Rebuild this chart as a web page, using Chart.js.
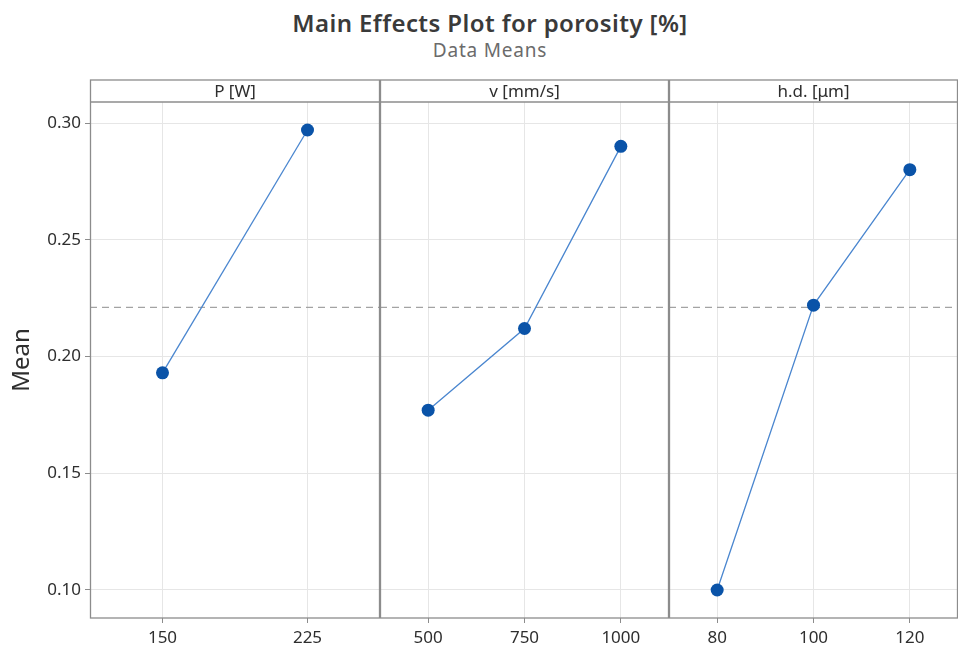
<!DOCTYPE html>
<html>
<head>
<meta charset="utf-8">
<title>Main Effects Plot for porosity</title>
<script src="https://cdn.jsdelivr.net/npm/chart.js@4.4.1/dist/chart.umd.min.js"></script>
<style>
  body { margin: 0; background: #fff; font-family: 'Noto Sans', sans-serif; }
  #wrap { position: relative; width: 961px; height: 650px; overflow: hidden; }
  .title { position: absolute; left: 0; width: 980px; text-align: center; line-height: 1; }
  #mainTitle { top: 11px; font-size: 24px; font-weight: 600; letter-spacing: 0.4px; color: #3a3a3a; }
  #subTitle { top: 41px; font-size: 19px; letter-spacing: 0.8px; color: #6b6b6b; }
  .panel { position: absolute; top: 0; height: 650px; }
</style>
</head>
<body>
<div id="wrap">
  <div class="title" id="mainTitle">Main Effects Plot for porosity [%]</div>
  <div class="title" id="subTitle">Data Means</div>
  <div class="panel" style="left:0;width:380px"><canvas id="panelP"></canvas></div>
  <div class="panel" style="left:380px;width:289px"><canvas id="panelV"></canvas></div>
  <div class="panel" style="left:669px;width:289px"><canvas id="panelHd"></canvas></div>
</div>
<script>
// factor levels and their data means
const pLevels = ['150', '225'];
const pMeans = [0.193, 0.297];
const vLevels = ['500', '750', '1000'];
const vMeans = [0.177, 0.212, 0.290];
const hdLevels = ['80', '100', '120'];
const hdMeans = [0.100, 0.222, 0.280];

const panelTitles = ['P [W]', 'v [mm/s]', 'h.d. [μm]'];
const overallMean = 0.221;
const yTicks = [0.10, 0.15, 0.20, 0.25, 0.30];
const yMin = 0.088;
const yMax = 0.309;

const FRAME = '#8c8c8c';
const GRID = '#e6e6e6';
const TEXT = '#2e2e2e';
const STRIP_H = 22;

// strip header + box around each panel
const panelFrame = {
    id: 'panelFrame',
    afterDraw(chart, args, opts) {
        const { ctx, chartArea: a } = chart;
        ctx.save();
        ctx.strokeStyle = FRAME;
        ctx.lineWidth = 1.3;
        ctx.strokeRect(a.left + 0.5, a.top - STRIP_H, a.right - a.left - 1, a.bottom - a.top + STRIP_H);
        ctx.beginPath();
        ctx.moveTo(a.left, a.top);
        ctx.lineTo(a.right, a.top);
        ctx.stroke();
        ctx.fillStyle = TEXT;
        ctx.font = '17px "Noto Sans", sans-serif';
        ctx.textAlign = 'center';
        ctx.textBaseline = 'middle';
        ctx.fillText(opts.title, (a.left + a.right) / 2, a.top - STRIP_H / 2 + 1);
        ctx.restore();
    }
};

// dashed reference line at the overall mean
const meanLine = {
    id: 'meanLine',
    beforeDatasetsDraw(chart) {
        const { ctx, chartArea: a, scales } = chart;
        const y = scales.y.getPixelForValue(overallMean);
        ctx.save();
        ctx.strokeStyle = '#a3a3a3';
        ctx.lineWidth = 1.3;
        ctx.setLineDash([7, 5]);
        ctx.beginPath();
        ctx.moveTo(a.left, y);
        ctx.lineTo(a.right, y);
        ctx.stroke();
        ctx.restore();
    }
};

function makePanel(id, levels, means, title, first) {
    const ctx = document.getElementById(id).getContext('2d');
    return new Chart(ctx, {
        type: 'line',
        data: {
            labels: levels,
            datasets: [{
                data: means,
                borderColor: '#4a86cf',
                borderWidth: 1.3,
                pointRadius: 6.5,
                pointBackgroundColor: '#0a53a8',
                pointBorderWidth: 0,
                tension: 0
            }]
        },
        options: {
            responsive: true,
            maintainAspectRatio: false,
            animation: false,
            layout: { autoPadding: false, padding: { top: 102, left: 0, right: 0, bottom: 0 } },
            plugins: {
                legend: { display: false },
                tooltip: { enabled: false },
                panelFrame: { title }
            },
            scales: {
                x: {
                    offset: true,
                    grid: { color: GRID, tickLength: 5, tickColor: FRAME },
                    border: { display: false },
                    ticks: { color: TEXT, padding: 5, font: { size: 17, family: 'Noto Sans' } },
                    afterFit: s => {
                        s.height = 32;
                        s.paddingLeft = 0;
                        s.paddingRight = 0;
                    }
                },
                y: {
                    min: yMin,
                    max: yMax,
                    afterBuildTicks: s => { s.ticks = yTicks.map(v => ({ value: v })); },
                    grid: { color: GRID, tickLength: 5, tickColor: FRAME, drawTicks: first },
                    border: { display: false },
                    ticks: {
                        display: first,
                        color: TEXT,
                        padding: 4,
                        font: { size: 17, family: 'Noto Sans' },
                        callback: v => v.toFixed(2)
                    },
                    title: {
                        display: first,
                        text: 'Mean',
                        color: TEXT,
                        font: { size: 24, family: 'Noto Sans' },
                        padding: { top: 8, bottom: 0 }
                    },
                    afterFit: s => {
                        s.width = first ? 90 : 0;
                        s.paddingTop = 0;
                        s.paddingBottom = 0;
                    }
                }
            }
        },
        plugins: [meanLine, panelFrame]
    });
}

makePanel('panelP', pLevels, pMeans, panelTitles[0], true);
makePanel('panelV', vLevels, vMeans, panelTitles[1], false);
makePanel('panelHd', hdLevels, hdMeans, panelTitles[2], false);
</script>
</body>
</html>
